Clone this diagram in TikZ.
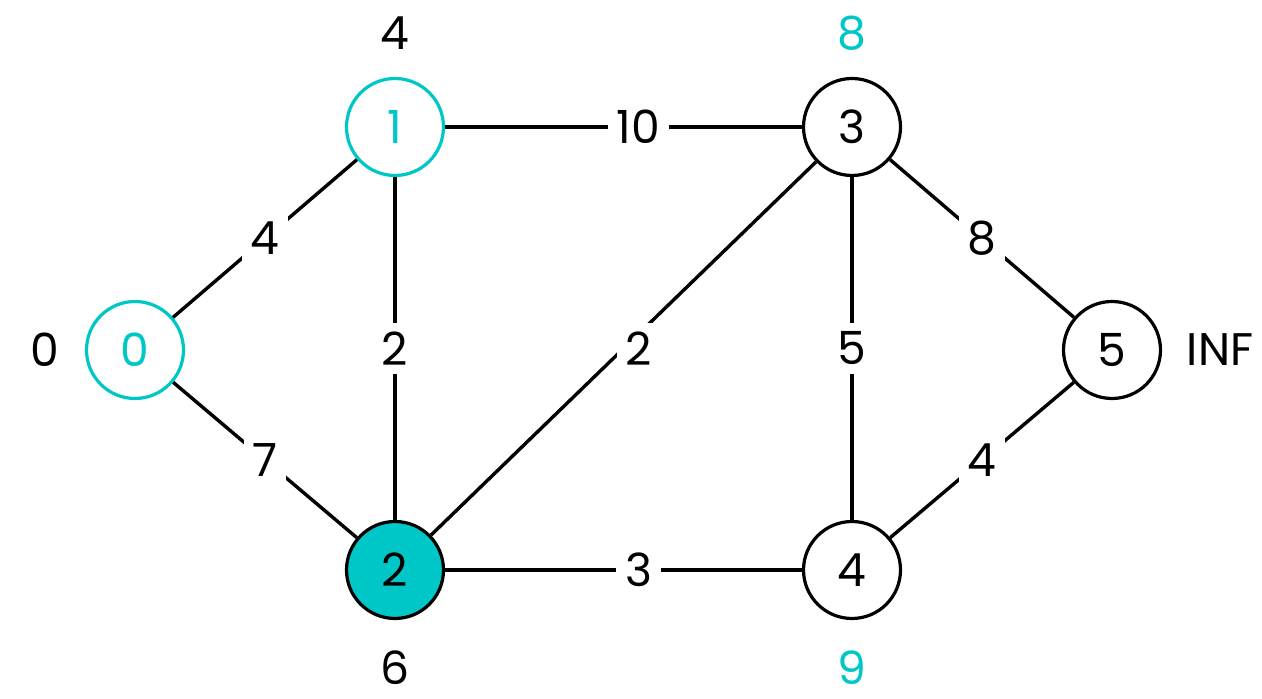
\documentclass[tikz,border=0pt]{standalone}
\usepackage{fontspec}
\setmainfont{Poppins}
\usepackage{tikz}
\definecolor{tealmark}{RGB}{0,199,199}

\begin{document}
\begin{tikzpicture}[font=\fontsize{13}{15}\selectfont,
    vert/.style={circle, draw=black, line width=0.032cm, minimum size=0.97cm, inner sep=0pt},
    seen/.style={vert, draw=tealmark, text=tealmark},
    curr/.style={vert, fill=tealmark},
    edge/.style={line width=0.034cm},
    wt/.style={fill=white, inner sep=2.5pt}]
  \useasboundingbox (0,0) rectangle (12.62,6.99);
  \node[seen] (v0) at (1.35,3.49) {0}; \node[seen] (v1) at (3.95,5.72) {1};
  \node[curr] (v2) at (3.95,1.29) {2}; \node[vert] (v3) at (8.52,5.72) {3};
  \node[vert] (v4) at (8.52,1.29) {4}; \node[vert] (v5) at (11.12,3.49) {5};
  % distances
  \node (d0) at (0.45,3.49) {0}; \node (d1) at (3.95,6.66) {4};
  \node (d2) at (3.95,0.31) {6}; \node[text=tealmark] (d3) at (8.52,6.66) {8};
  \node[text=tealmark] (d4) at (8.52,0.31) {9}; \node (d5) at (12.2,3.49) {INF};
  \draw[edge] (v0) -- node[wt] {4} (v1); \draw[edge] (v0) -- node[wt] {7} (v2);
  \draw[edge] (v1) -- node[wt] {2} (v2); \draw[edge] (v1) -- node[wt, xshift=0.15cm] {10} (v3);
  \draw[edge] (v2) -- node[wt, xshift=0.15cm] {2} (v3); \draw[edge] (v2) -- node[wt, xshift=0.15cm] {3} (v4);
  \draw[edge] (v3) -- node[wt] {5} (v4); \draw[edge] (v3) -- node[wt] {8} (v5);
  \draw[edge] (v4) -- node[wt] {4} (v5);
\end{tikzpicture}
\end{document}
